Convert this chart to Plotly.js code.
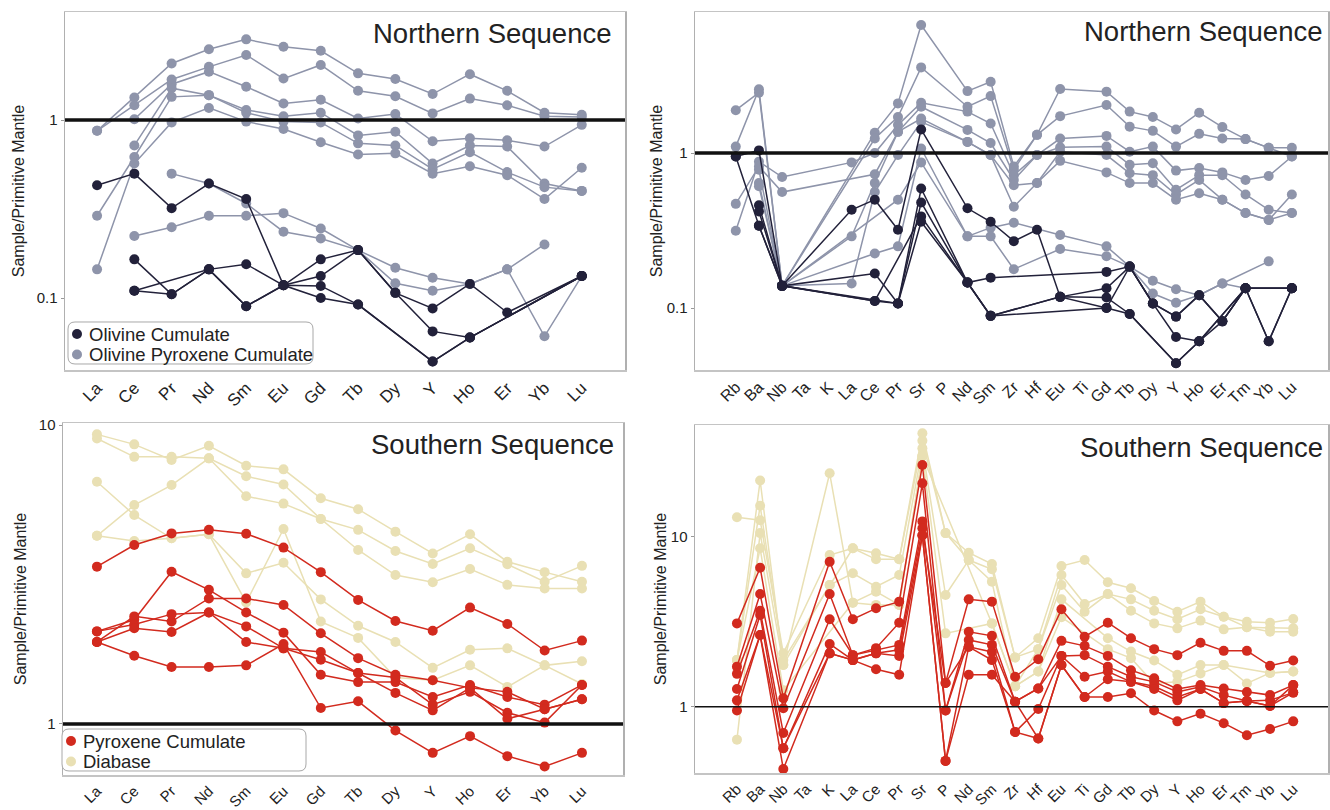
<!DOCTYPE html>
<html><head><meta charset="utf-8">
<script src="https://cdn.plot.ly/plotly-3.0.1.min.js"></script>
<style>html,body{margin:0;padding:0;background:#fff}#chart{width:1330px;height:810px}</style>
</head><body><div id="chart"></div>
<script>
// ---- categories ----
const REE = ['La','Ce','Pr','Nd','Sm','Eu','Gd','Tb','Dy','Y','Ho','Er','Yb','Lu'];
const SPIDER = ['Rb','Ba','Nb','Ta','K','La','Ce','Pr','Sr','P','Nd','Sm','Zr','Hf','Eu','Ti','Gd','Tb','Dy','Y','Ho','Er','Tm','Yb','Lu'];

// ---- Northern Sequence, REE (top-left) ----
const northReeOlivinePyx = [
  [0.87,1.34,2.08,2.50,2.84,2.58,2.45,1.83,1.70,1.40,1.81,1.46,1.10,1.07],
  [0.87,1.21,1.69,1.99,2.32,1.71,2.04,1.46,1.36,1.09,1.32,1.21,1.05,1.04],
  [null,1.01,1.59,1.87,1.54,1.24,1.30,1.02,1.08,0.76,0.79,0.77,0.71,0.94],
  [null,0.72,1.51,1.38,1.14,1.05,1.10,0.82,0.86,0.57,0.72,0.71,0.44,0.40],
  [0.29,0.62,1.35,1.38,1.10,0.98,0.97,0.74,0.72,0.53,0.66,0.51,0.42,0.40],
  [0.145,0.57,0.97,1.17,0.98,0.89,0.75,0.64,0.65,0.50,0.55,0.49,0.36,0.54],
  [null,0.223,0.25,0.29,0.29,0.30,0.246,0.186,0.148,0.13,0.12,0.145,0.20,null],
  [null,null,0.50,0.44,0.34,0.236,0.216,0.186,0.121,0.11,0.12,0.145,0.061,0.133]
];
const northReeOlivine = [
  [0.43,0.50,0.32,0.44,0.36,0.118,0.10,0.092,null,0.044,0.06,null,null,0.133],
  [null,0.165,0.105,0.145,0.155,0.118,0.165,0.186,0.107,0.0875,0.12,0.083,null,0.133],
  [null,0.11,0.105,0.145,0.09,0.118,0.133,0.186,0.107,0.065,0.06,null,null,0.133],
  [null,0.11,null,0.145,0.09,0.118,0.117,0.092,null,0.044,0.06,null,null,0.133]
];

// ---- Northern Sequence, spider (top-right) ----
const northSpiderOlivinePyx = [
  [1.10,2.58,0.139,null,null,null,1.35,2.09,6.70,null,2.51,2.88,0.82,1.31,2.59,null,2.49,1.85,1.71,1.42,1.82,1.47,1.23,1.08,1.08],
  [1.89,2.45,0.139,null,null,null,1.24,1.71,3.57,null,1.99,2.33,0.78,1.31,1.73,null,2.04,1.48,1.39,1.10,1.33,1.24,1.23,1.08,0.95],
  [0.315,0.88,0.70,null,null,0.87,1.00,1.52,2.11,null,1.85,1.55,0.72,0.97,1.24,null,1.29,1.02,1.10,0.77,0.80,0.75,0.67,0.71,0.95],
  [0.47,0.82,0.56,null,null,null,0.73,1.37,1.99,null,1.41,1.16,0.67,0.97,1.09,null,1.10,0.84,0.86,0.58,0.72,0.72,0.54,0.43,0.41],
  [null,0.78,0.139,null,null,0.29,0.64,1.37,1.67,null,1.18,0.97,0.62,0.64,1.02,null,0.97,0.74,0.72,0.54,0.67,0.50,0.41,0.37,0.54],
  [null,0.64,0.139,null,null,0.144,0.56,0.97,1.59,null,1.18,0.97,0.45,0.64,0.89,null,0.75,0.64,0.64,0.50,0.55,0.50,0.41,0.37,0.41],
  [null,0.61,0.139,null,null,null,0.225,0.25,1.07,null,0.29,0.33,0.355,null,0.296,null,0.25,0.185,0.15,0.132,0.121,0.144,null,0.20,null],
  [null,null,0.139,null,null,null,null,0.50,0.87,null,0.29,0.29,0.178,null,0.24,null,0.216,0.185,0.124,0.108,0.121,0.144,0.134,null,0.134]
];
const northSpiderOlivine = [
  [0.95,1.04,0.139,null,null,0.43,0.50,0.32,1.42,null,0.44,0.36,0.27,0.32,0.118,null,0.10,0.0915,null,0.044,0.061,null,0.134,null,0.134],
  [null,0.46,0.139,null,null,null,0.167,0.107,0.59,null,0.146,0.157,null,null,null,null,0.171,0.185,0.107,0.088,0.121,0.082,0.134,0.061,0.134],
  [null,0.42,0.139,null,null,null,0.111,0.107,0.48,null,0.146,0.089,null,null,0.118,null,0.134,0.185,0.107,0.065,0.061,0.082,0.134,null,0.134],
  [0.95,0.34,0.139,null,null,null,0.111,null,0.39,null,0.146,0.089,null,null,0.118,null,0.117,0.0915,null,0.044,0.061,null,0.134,null,0.134],
  [null,0.34,0.139,null,null,null,null,0.107,0.36,null,0.146,0.089,null,null,null,null,0.10,0.185,0.107,0.088,0.121,0.082,0.134,0.061,0.134]
];

// ---- Southern Sequence, REE (bottom-left) ----
const southReeDiabase = [
  [9.31,8.62,7.64,8.53,7.31,7.11,5.69,5.23,4.40,3.72,4.31,3.49,3.22,2.99],
  [9.02,7.83,7.83,7.74,6.74,6.33,4.85,4.46,3.79,3.43,3.87,3.42,2.99,3.38],
  [4.26,5.40,6.30,7.74,5.78,5.46,4.85,3.82,3.15,2.98,3.30,2.92,2.84,2.84],
  [6.46,5.00,4.18,4.31,3.19,3.46,2.61,2.13,1.88,1.54,1.77,1.79,1.57,1.62],
  [4.26,4.09,4.18,4.31,2.55,4.49,2.20,1.94,1.43,1.40,1.57,1.33,1.57,1.36]
];
const southReePyroxene = [
  [3.36,3.97,4.34,4.46,4.33,3.89,3.22,2.60,2.21,2.05,2.45,2.16,1.76,1.90],
  [2.04,2.23,3.23,2.81,2.36,2.02,1.46,1.38,1.38,1.23,1.35,1.23,1.16,1.35],
  [1.88,2.29,2.20,2.63,2.63,2.50,2.01,1.66,1.46,1.40,1.32,1.28,1.12,1.21],
  [2.04,2.15,2.33,2.36,2.12,1.79,1.74,1.48,1.43,1.16,1.28,1.09,1.01,1.35],
  [1.88,2.09,2.03,2.36,1.88,1.79,1.64,1.48,1.27,1.11,1.32,1.04,1.12,1.21],
  [1.88,1.69,1.55,1.55,1.57,1.85,1.13,1.19,0.95,0.80,0.91,0.78,0.72,0.80]
];

// ---- Southern Sequence, spider (bottom-right) ----
const southSpiderDiabase = [
  [13.0,12.5,2.06,null,7.80,8.55,7.98,7.36,40.6,10.5,8.05,6.91,1.95,2.53,6.72,7.29,5.39,4.97,4.19,3.62,4.15,3.38,3.16,3.12,3.28],
  [1.88,15.2,1.88,null,5.20,8.55,7.36,7.36,36.7,10.5,7.29,6.43,1.95,2.18,5.95,4.02,4.60,4.28,3.67,3.27,3.74,3.38,2.93,2.90,2.89],
  [1.88,21.4,1.76,null,5.20,6.09,5.08,5.95,33.1,4.54,7.29,5.44,1.32,2.18,5.20,3.62,4.60,3.67,3.09,2.89,3.21,2.85,2.93,2.76,2.76],
  [0.64,10.5,1.76,null,23.6,4.09,4.75,3.97,29.8,2.70,null,3.09,1.32,1.61,4.28,null,2.53,2.11,1.87,1.54,1.76,1.76,1.37,1.58,1.61],
  [1.88,8.55,1.25,null,null,4.09,3.97,3.97,29.8,null,null,3.09,1.32,1.61,3.36,null,2.18,1.93,1.37,1.40,1.57,1.76,null,1.58,1.61]
];
const southSpiderPyroxene = [
  [3.09,6.57,1.12,null,7.13,3.27,3.79,4.15,26.4,1.38,4.28,4.15,1.50,1.90,3.74,2.58,3.12,2.53,2.18,2.01,2.38,2.13,2.13,1.74,1.87],
  [1.72,4.60,0.98,null,4.60,2.01,2.21,3.12,20.6,0.95,2.76,2.61,1.07,1.28,2.44,2.28,1.99,1.64,1.47,1.27,1.34,1.28,1.22,1.17,1.34],
  [1.56,3.67,0.70,null,3.27,2.01,2.16,2.31,12.3,0.95,2.47,2.31,1.07,1.28,1.99,2.01,1.72,1.50,1.40,1.22,1.31,1.17,1.08,1.09,1.21],
  [1.27,3.46,0.57,null,2.34,1.88,2.06,2.16,11.2,1.38,2.25,2.10,0.71,0.97,1.99,1.50,1.61,1.40,1.32,1.14,1.27,1.05,1.08,1.01,1.21],
  [1.09,2.64,0.43,null,2.06,1.88,2.06,1.99,10.2,0.48,2.25,1.88,0.71,0.65,1.76,1.14,1.45,1.40,1.27,1.09,1.27,1.05,1.08,1.01,1.34],
  [0.95,2.64,0.57,null,2.06,1.88,1.66,1.54,10.2,0.48,1.54,1.54,1.07,0.65,1.76,1.14,1.14,1.20,0.95,0.82,0.91,0.80,0.68,0.74,0.82]
];

const seriesNames = ['Olivine Cumulate','Olivine Pyroxene Cumulate','Pyroxene Cumulate','Diabase'];
const panelTitles = ['Northern Sequence','Northern Sequence','Southern Sequence','Southern Sequence'];

// ---- styling ----
const C_DARK = '#22213a', C_GRAY = '#8e94aa', C_RED = '#d22a1e', C_BEIGE = '#e9e0b4';
const FONT = 'Liberation Sans, Arial, sans-serif';
const W = 1330, H = 810;
const px = v => v / W, py = v => 1 - v / H;

const traces = [];
function addGroup(rows, cats, xa, ya, color) {
  rows.forEach(vals => traces.push({
    type:'scatter', mode:'lines+markers', x:cats, y:vals, xaxis:xa, yaxis:ya,
    connectgaps:true, line:{color:color, width:1.5}, marker:{color:color, size:10},
    showlegend:false, hoverinfo:'skip'
  }));
}
addGroup(northReeOlivinePyx, REE, 'x', 'y', C_GRAY);
addGroup(northReeOlivine, REE, 'x', 'y', C_DARK);
addGroup(northSpiderOlivinePyx, SPIDER, 'x2', 'y2', C_GRAY);
addGroup(northSpiderOlivine, SPIDER, 'x2', 'y2', C_DARK);
addGroup(southReeDiabase, REE, 'x3', 'y3', C_BEIGE);
addGroup(southReePyroxene, REE, 'x3', 'y3', C_RED);
addGroup(southSpiderDiabase, SPIDER, 'x4', 'y4', C_BEIGE);
addGroup(southSpiderPyroxene, SPIDER, 'x4', 'y4', C_RED);

function xAxis(cats, dom, range, fs, anchor) {
  return {type:'category', categoryorder:'array', categoryarray:cats, domain:dom, range:range, anchor:anchor,
    tickangle:-45, tickfont:{family:FONT, size:fs, color:'#222'}, showgrid:false, zeroline:false,
    showline:true, mirror:true, linecolor:'#c4c4c4', linewidth:1.5, ticks:'', ticklen:0, automargin:false};
}
function yAxis(dom, range, tv, tt, anchor, standoff) {
  return {type:'log', domain:dom, range:range, tickvals:tv, ticktext:tt, anchor:anchor,
    tickfont:{family:FONT, size:15, color:'#222'}, showgrid:false, zeroline:false,
    showline:true, mirror:true, linecolor:'#b0b0b0', linewidth:1.5, ticks:'outside', ticklen:3, tickcolor:'#999',
    title:{text:'Sample/Primitive Mantle', font:{family:FONT, size:16, color:'#222'}, standoff:standoff}, automargin:false};
}
const d1x = [px(65), px(625)], d2x = [px(695), px(1328)], d3x = [px(63), px(623)];
const dTop = [py(370), py(12)], dBot3 = [py(775), py(423)], dBot4 = [py(773), py(425)];

// custom legends (boxes with rounded corners, marker dots, text)
function roundRect(x0, y0, x1, y1, r) {
  const X = v => px(v).toFixed(5), Y = v => py(v).toFixed(5);
  return 'M' + X(x0+r) + ',' + Y(y0) + ' L' + X(x1-r) + ',' + Y(y0) + ' Q' + X(x1) + ',' + Y(y0) + ' ' + X(x1) + ',' + Y(y0+r) +
    ' L' + X(x1) + ',' + Y(y1-r) + ' Q' + X(x1) + ',' + Y(y1) + ' ' + X(x1-r) + ',' + Y(y1) +
    ' L' + X(x0+r) + ',' + Y(y1) + ' Q' + X(x0) + ',' + Y(y1) + ' ' + X(x0) + ',' + Y(y1-r) +
    ' L' + X(x0) + ',' + Y(y0+r) + ' Q' + X(x0) + ',' + Y(y0) + ' ' + X(x0+r) + ',' + Y(y0) + ' Z';
}
const shapes = [
  {type:'line', xref:'x domain', yref:'y', x0:0, x1:1, y0:1, y1:1, line:{color:'#111', width:3.5}},
  {type:'line', xref:'x2 domain', yref:'y2', x0:0, x1:1, y0:1, y1:1, line:{color:'#111', width:3.5}},
  {type:'line', xref:'x3 domain', yref:'y3', x0:0, x1:1, y0:1, y1:1, line:{color:'#111', width:3.5}},
  {type:'line', xref:'x4 domain', yref:'y4', x0:0, x1:1, y0:1, y1:1, line:{color:'#111', width:1.6}}
];
const annotations = [
  {xref:'x domain', yref:'y domain', x:0.98, y:0.99, xanchor:'right', yanchor:'top', showarrow:false, text:panelTitles[0], font:{family:FONT, size:27.5, color:'#222'}},
  {xref:'x2 domain', yref:'y2 domain', x:0.995, y:0.995, xanchor:'right', yanchor:'top', showarrow:false, text:panelTitles[1], font:{family:FONT, size:27.5, color:'#222'}},
  {xref:'x3 domain', yref:'y3 domain', x:0.988, y:0.99, xanchor:'right', yanchor:'top', showarrow:false, text:panelTitles[2], font:{family:FONT, size:27.5, color:'#222'}},
  {xref:'x4 domain', yref:'y4 domain', x:0.995, y:0.985, xanchor:'right', yanchor:'top', showarrow:false, text:panelTitles[3], font:{family:FONT, size:27.5, color:'#222'}}
];
function addLegend(x0, y0, x1, y1, items) {
  shapes.push({type:'path', xref:'paper', yref:'paper', path:roundRect(x0, y0, x1, y1, 7),
    fillcolor:'#fff', line:{color:'#a8a8a8', width:1}, layer:'above'});
  items.forEach((it, i) => {
    const cy = y0 + 12 + i * 20.5, cx = x0 + 9;
    shapes.push({type:'circle', xref:'paper', yref:'paper', x0:px(cx-5), x1:px(cx+5), y0:py(cy+5), y1:py(cy-5),
      fillcolor:it.color, line:{width:0}, layer:'above'});
    annotations.push({xref:'paper', yref:'paper', x:px(x0+19), y:py(cy), xanchor:'left', yanchor:'middle',
      showarrow:false, text:it.name, font:{family:FONT, size:18.5, color:'#222'}});
  });
}
addLegend(68, 322, 313, 364, [{name:seriesNames[0], color:C_DARK}, {name:seriesNames[1], color:C_GRAY}]);
addLegend(62, 729, 306, 771, [{name:seriesNames[2], color:C_RED}, {name:seriesNames[3], color:C_BEIGE}]);

const layout = {
  width:W, height:H, margin:{l:0,r:0,t:0,b:0}, paper_bgcolor:'#fff', plot_bgcolor:'#fff',
  font:{family:FONT, color:'#222'}, showlegend:false,
  xaxis: xAxis(REE, d1x, [-0.86, 14.16], 17, 'y'),
  yaxis: yAxis(dTop, [-1.404, 0.607], [0.1,1], ['0.1','1'], 'x', 8),
  xaxis2: xAxis(SPIDER, d2x, [-1.76, 25.56], 16, 'y2'),
  yaxis2: yAxis(dTop, [-1.40, 0.91], [0.1,1], ['0.1','1'], 'x2', 0),
  xaxis3: xAxis(REE, d3x, [-0.91, 14.10], 15, 'y3'),
  yaxis3: yAxis(dBot3, [-0.171, 1.007], [1,10], ['1','10'], 'x3', 8),
  xaxis4: xAxis(SPIDER, d2x, [-1.81, 25.5], 15, 'y4'),
  yaxis4: yAxis(dBot4, [-0.39, 1.657], [1,10], ['1','10'], 'x4', 0),
  shapes: shapes,
  annotations: annotations
};
Plotly.newPlot('chart', traces, layout, {staticPlot:true, displayModeBar:false});
</script></body></html>
